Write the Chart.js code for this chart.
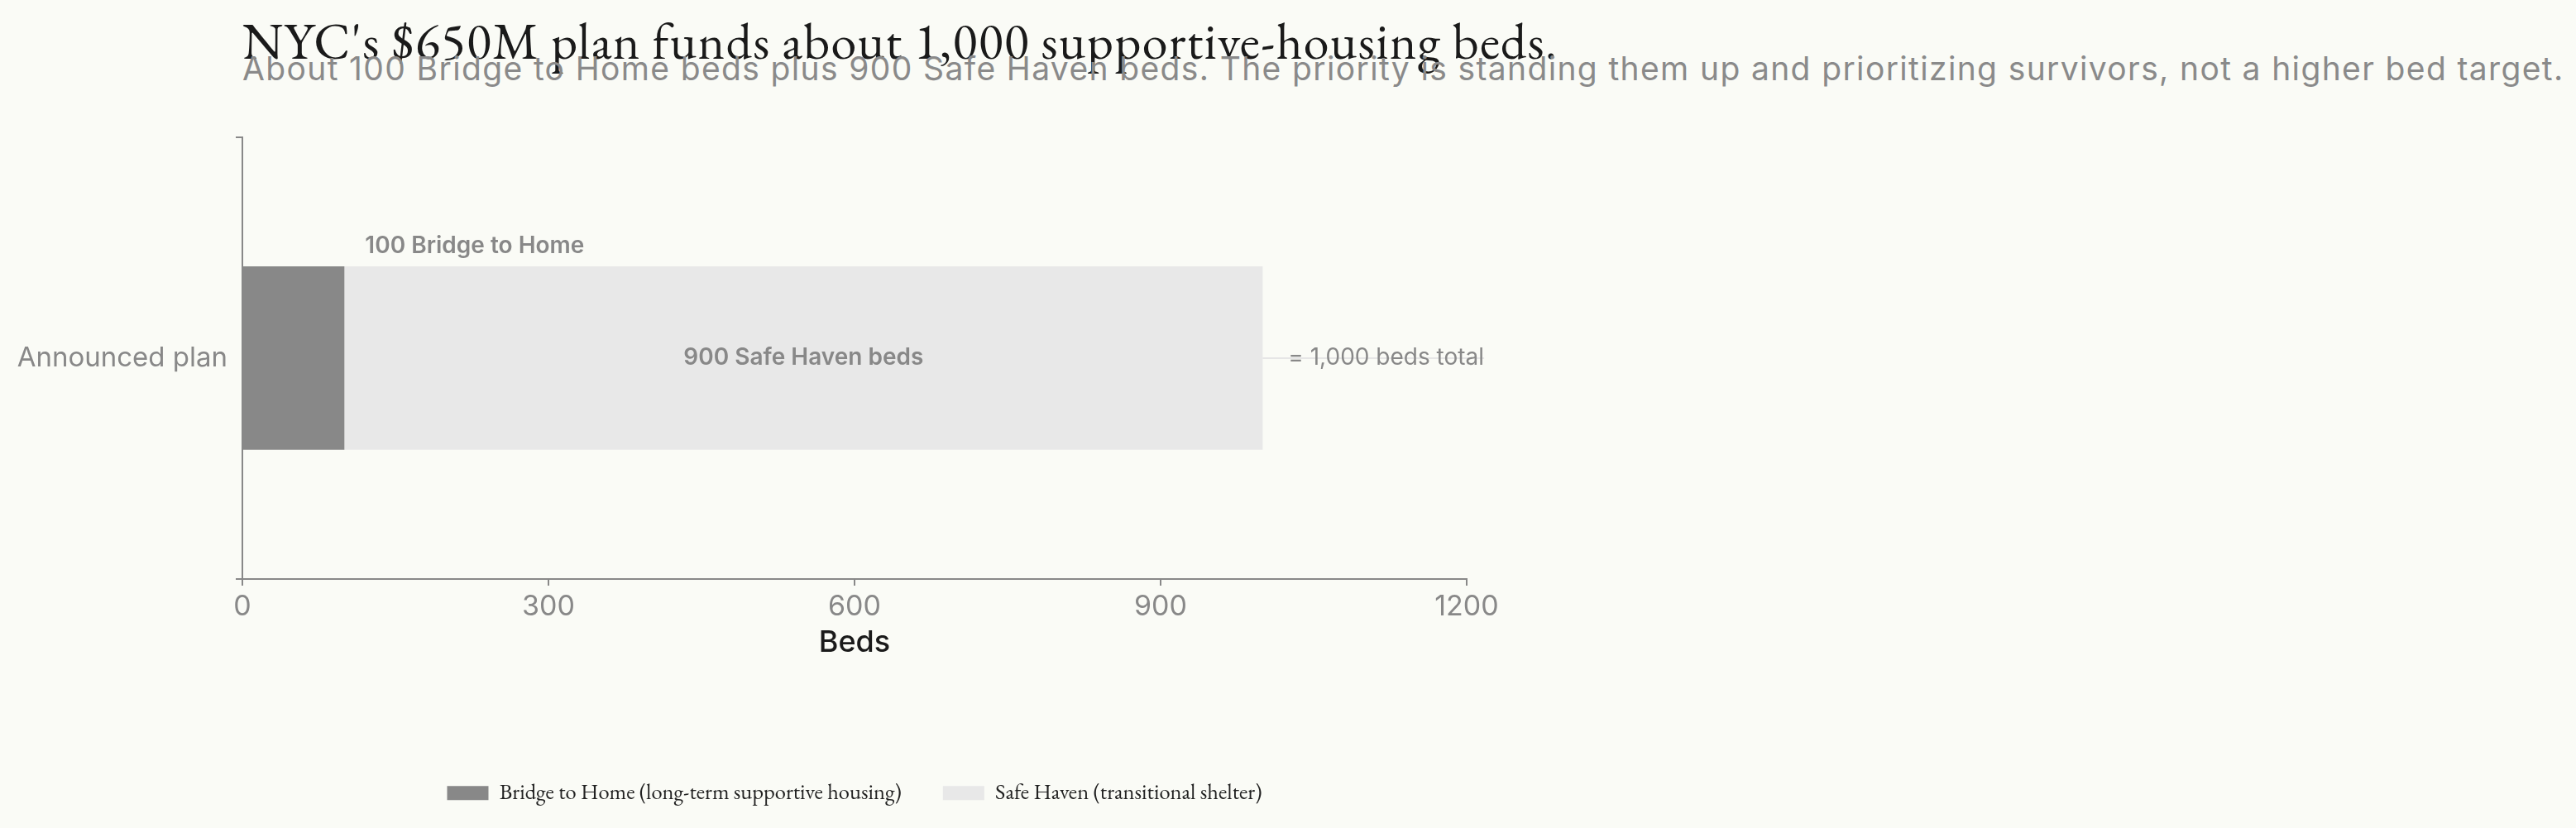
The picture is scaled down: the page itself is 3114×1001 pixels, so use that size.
<!DOCTYPE html>
<html>
<head>
<meta charset="utf-8">
<script src="https://cdn.jsdelivr.net/npm/chart.js@4.4.1/dist/chart.umd.min.js"></script>
<style>
  html, body { margin: 0; padding: 0; background: #fafbf6; }
  body { width: 3114px; height: 1001px; position: relative; overflow: hidden; }
  #title { position: absolute; left: 293px; top: 18px; font-family: "EB Garamond", Garamond, "Liberation Serif", serif; font-size: 62px; line-height: 62px; letter-spacing: 1.3px; color: #1a1a1a; white-space: nowrap; }
  #subtitle { position: absolute; left: 293px; top: 63px; font-family: Inter, "Noto Sans", sans-serif; font-size: 39px; line-height: 39px; letter-spacing: 1.36px; color: #8a8a8a; white-space: nowrap; }
  #wrap { position: absolute; left: 0; top: 136px; width: 2066px; height: 865px; }
</style>
</head>
<body>
<div id="title">NYC's $650M plan funds about 1,000 supportive-housing beds.</div>
<div id="subtitle">About 100 Bridge to Home beds plus 900 Safe Haven beds. The priority is standing them up and prioritizing survivors, not a higher bed target.</div>
<div id="wrap"><canvas id="c"></canvas></div>
<script>
const categories = ['Announced plan'];
const seriesNames = ['Bridge to Home (long-term supportive housing)', 'Safe Haven (transitional shelter)'];
const bridgeBeds = [100];
const safeHavenBeds = [900];
const xTickValues = [0, 300, 600, 900, 1200];
const axisTitle = 'Beds';
const bridgeLabel = '100 Bridge to Home';
const safeLabel = '900 Safe Haven beds';
const totalLabel = '= 1,000 beds total';

const PAD_BOTTOM = 19;

const annot = {
  id: 'annot',
  afterDatasetsDraw(chart) {
    const ctx = chart.ctx;
    const xs = chart.scales.x;
    const m0 = chart.getDatasetMeta(0).data[0];
    const top = m0.y - m0.height / 2;
    const cy = m0.y;
    ctx.save();
    ctx.fillStyle = '#888888';
    ctx.font = '600 28px Inter, sans-serif';
    ctx.textAlign = 'left';
    ctx.textBaseline = 'alphabetic';
    ctx.fillText(bridgeLabel, xs.getPixelForValue(bridgeBeds[0]) + 25, top - 16);
    ctx.textAlign = 'center';
    ctx.textBaseline = 'middle';
    const segMid = (xs.getPixelForValue(bridgeBeds[0]) + xs.getPixelForValue(bridgeBeds[0] + safeHavenBeds[0])) / 2;
    ctx.fillText(safeLabel, segMid, cy);
    const endX = xs.getPixelForValue(bridgeBeds[0] + safeHavenBeds[0]);
    ctx.font = '400 28px Inter, sans-serif';
    const tx = endX + 31;
    const tw = ctx.measureText(totalLabel).width;
    ctx.strokeStyle = '#e6e6e6';
    ctx.lineWidth = 2;
    ctx.beginPath();
    ctx.moveTo(endX, cy);
    ctx.lineTo(tx + tw, cy);
    ctx.stroke();
    ctx.textAlign = 'left';
    ctx.fillText(totalLabel, tx, cy);
    ctx.restore();
  }
};

new Chart(document.getElementById('c'), {
  type: 'bar',
  data: {
    labels: categories,
    datasets: [
      { label: seriesNames[0], data: bridgeBeds, backgroundColor: '#888888', borderWidth: 0 },
      { label: seriesNames[1], data: safeHavenBeds, backgroundColor: '#e8e8e8', borderWidth: 0 }
    ]
  },
  options: {
    indexAxis: 'y',
    responsive: true,
    maintainAspectRatio: false,
    animation: false,
    events: [],
    layout: { padding: { top: 15, left: 0, right: 0, bottom: PAD_BOTTOM } },
    datasets: { bar: { barPercentage: 0.415, categoryPercentage: 1 } },
    scales: {
      x: {
        stacked: true,
        min: 0, max: 1200,
        afterBuildTicks(s) { s.ticks = xTickValues.map(v => ({ value: v })); },
        afterFit(s) {
          const lh = s.chart.legend ? s.chart.legend.height : 46;
          s.height = Math.max(10, s.chart.height - PAD_BOTTOM - lh - 564);
        },
        grid: { display: true, drawOnChartArea: false, drawTicks: true, tickLength: 8, color: '#888888', lineWidth: 2 },
        border: { display: true, color: '#888888', width: 2 },
        ticks: { color: '#888888', font: { family: 'Inter', size: 34 }, padding: 5, maxRotation: 0, callback: v => String(v) },
        title: { display: true, text: axisTitle, color: '#1a1a1a', font: { family: 'Inter', size: 36, weight: '500' }, padding: { top: 0, bottom: 97 } }
      },
      y: {
        stacked: true,
        afterFit(s) { s.width = 293; },
        grid: { display: true, drawOnChartArea: false, drawTicks: true, tickLength: 8, color: '#888888', lineWidth: 2 },
        border: { display: true, color: '#888888', width: 2 },
        ticks: { color: '#888888', font: { family: 'Inter', size: 33 }, padding: 10 }
      },
      yR: {
        type: 'linear',
        position: 'right',
        display: true,
        afterFit(s) { s.width = 293; },
        grid: { display: false },
        border: { display: false },
        ticks: { display: false }
      }
    },
    plugins: {
      tooltip: { enabled: false },
      legend: {
        position: 'bottom',
        labels: { color: '#222222', font: { family: '"EB Garamond", Garamond, "Liberation Serif", serif', size: 26.5 }, boxWidth: 50, boxHeight: 17, padding: 50 }
      }
    }
  },
  plugins: [annot]
});
</script>
</body>
</html>
